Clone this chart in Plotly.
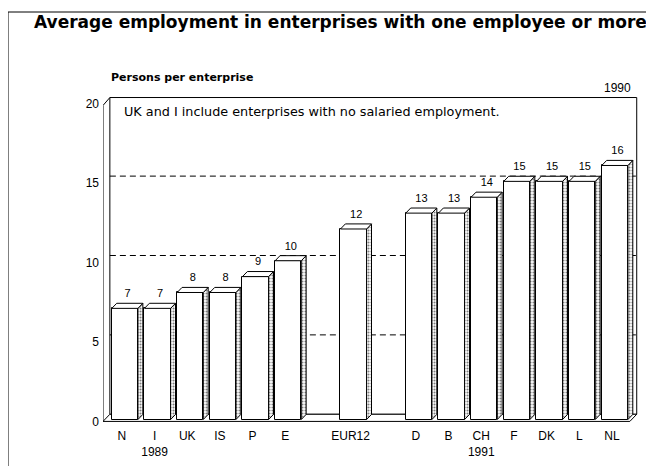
import plotly.graph_objects as go

# data
categories = ["N", "I", "UK", "IS", "P", "E", "EUR12", "D", "B", "CH", "F", "DK", "L", "NL"]
values = [7, 7, 8, 8, 9, 10, 12, 13, 13, 14, 15, 15, 15, 16]
slots = [0, 1, 2, 3, 4, 5, 7, 9, 10, 11, 12, 13, 14, 15]   # empty slots 6 and 8
tick_labels = ["N", "I<br>1989", "UK", "IS", "P", "E", "EUR12",
               "D", "B", "CH<br>1991", "F", "DK", "L", "NL"]
y_ticks = [0, 5, 10, 15, 20]
grid_levels = [5, 10, 15]

# layout geometry (pixels); page body adds an 8px margin
W, H = 654, 466
OFF = 8
L, R, T, B = 95, 22, 80, 51
X_RANGE = [-0.58, 15.86]
Y_RANGE = [-0.1, 21]

# 3D look
WALL_DX, WALL_DY = 0.21, 0.45   # depth of back wall
WALL_TOP = 20.4
BAR_DX, BAR_DY = 0.15, 0.32     # depth of each bar
BAR_W = 0.8
BAR_SHIFT = 0.09
BAR_BASE = 0.12
FRONT_RIGHT = 15.55


def px(xp):
    return (xp - OFF - L) / (W - L - R)


def py(yp):
    return (H - B - (yp - OFF)) / (H - T - B)


fig = go.Figure()

# back wall, left wall, floor
x_left = X_RANGE[0]
shapes = [
    dict(type="rect", xref="x", yref="y", layer="below",
         x0=x_left + WALL_DX, x1=FRONT_RIGHT + WALL_DX, y0=WALL_DY, y1=WALL_TOP,
         line=dict(color="black", width=1), fillcolor="white"),
    dict(type="path", xref="x", yref="y", layer="below",
         path=f"M {x_left},0 L {x_left},19.9 L {x_left + WALL_DX},{WALL_TOP}",
         line=dict(color="black", width=1)),
    dict(type="path", xref="x", yref="y", layer="below",
         path=(f"M {x_left},0 L {FRONT_RIGHT},0 L {FRONT_RIGHT + WALL_DX},{WALL_DY} "
               f"L {x_left + WALL_DX},{WALL_DY} Z"),
         line=dict(color="black", width=1), fillcolor="white"),
]
for g in grid_levels:
    shapes.append(dict(type="line", xref="x", yref="y", layer="below",
                       x0=x_left + WALL_DX, x1=FRONT_RIGHT + WALL_DX,
                       y0=g + WALL_DY, y1=g + WALL_DY,
                       line=dict(color="black", width=1, dash="6px,4px")))
# outer frame
shapes.append(dict(type="path", xref="paper", yref="paper",
                   path=f"M {px(8)},{py(480)} L {px(8)},{py(12)} L {px(670)},{py(12)}",
                   line=dict(color="black", width=1)))

# front faces
fig.add_trace(go.Bar(
    x=slots, y=values, base=BAR_BASE, width=BAR_W, offset=-BAR_W / 2 + BAR_SHIFT,
    marker=dict(color="white", line=dict(color="black", width=1)),
    hoverinfo="skip", showlegend=False
))

# side and top faces
side_x, side_y, top_x, top_y = [], [], [], []
for s, v in zip(slots, values):
    xl = s - BAR_W / 2 + BAR_SHIFT
    xr = s + BAR_W / 2 + BAR_SHIFT
    yt = v + BAR_BASE
    side_x += [xr, xr + BAR_DX, xr + BAR_DX, xr, xr, None]
    side_y += [BAR_BASE, BAR_BASE + BAR_DY, yt + BAR_DY, yt, BAR_BASE, None]
    top_x += [xl, xr, xr + BAR_DX, xl + BAR_DX, xl, None]
    top_y += [yt, yt, yt + BAR_DY, yt + BAR_DY, yt, None]

fig.add_trace(go.Scatter(
    x=side_x, y=side_y, mode="lines", fill="toself",
    fillcolor="#d0d0d0",
    fillpattern=dict(shape=".", fgcolor="black", bgcolor="white", size=3, solidity=0.4),
    line=dict(color="black", width=1), hoverinfo="skip", showlegend=False
))
fig.add_trace(go.Scatter(
    x=top_x, y=top_y, mode="lines", fill="toself", fillcolor="white",
    line=dict(color="black", width=1), hoverinfo="skip", showlegend=False
))

# value labels
fig.add_trace(go.Scatter(
    x=[s + 0.17 for s in slots], y=[v + 1.0 for v in values],
    mode="text", text=[str(v) for v in values],
    textfont=dict(family="Liberation Sans", size=11, color="black"),
    hoverinfo="skip", showlegend=False
))

text_style = dict(xref="paper", yref="paper", showarrow=False, yanchor="middle")
annotations = [
    dict(text="<b>Average employment in enterprises with one employee or more</b>",
         x=px(340), y=py(22), xanchor="center",
         font=dict(family="DejaVu Sans", size=17, color="black"), **text_style),
    dict(text="<b>Persons per enterprise</b>", x=px(109), y=py(77), xanchor="left",
         font=dict(family="DejaVu Sans", size=11, color="black"), **text_style),
    dict(text="UK and I include enterprises with no salaried employment.",
         x=px(122), y=py(111), xanchor="left",
         font=dict(family="DejaVu Sans", size=12.8, color="black"), **text_style),
    dict(text="1990", x=px(617), y=py(88), xanchor="center",
         font=dict(family="Liberation Sans", size=12, color="black"), **text_style),
]

fig.update_layout(
    width=W, height=H,
    margin=dict(l=L, r=R, t=T, b=B),
    paper_bgcolor="white", plot_bgcolor="white",
    shapes=shapes, annotations=annotations,
    bargap=0,
    xaxis=dict(range=X_RANGE, tickvals=slots, ticktext=tick_labels,
               showgrid=False, zeroline=False, showline=False, ticks="",
               ticklabelstandoff=4,
               tickfont=dict(family="Liberation Sans", size=12, color="black")),
    yaxis=dict(range=Y_RANGE, tickvals=y_ticks, showgrid=False, zeroline=False,
               showline=False, ticks="", ticklabelstandoff=3,
               tickfont=dict(family="Liberation Sans", size=12, color="black")),
)

fig.write_html("out.html")
